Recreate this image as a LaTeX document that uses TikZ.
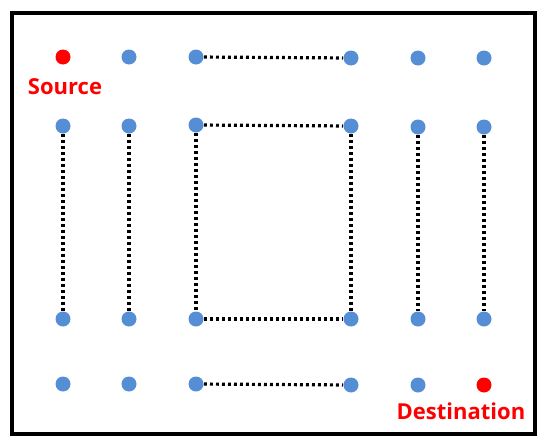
\documentclass[tikz,border=0pt]{standalone}
\usepackage{fontspec}
\setmainfont{Open Sans}
\tikzset{every picture/.style={line width=0.75pt}}
\tikzset{
  bdot/.style={circle,fill={rgb, 255:red, 85; green, 142; blue, 213 },inner sep=0pt,minimum size=11.25pt},
  rdot/.style={circle,fill={rgb, 255:red, 255; green, 0; blue, 0 },inner sep=0pt,minimum size=11.25pt},
  link/.style={line width=2.4pt,dash pattern=on 2.1pt off 2.4pt},
  lbl/.style={text={rgb, 255:red, 255; green, 0; blue, 0 },font=\bfseries\fontsize{16.5}{19}\selectfont}
}
\begin{document}
\begin{tikzpicture}[x=0.75pt,y=0.75pt,yscale=-1,xscale=1]
	\useasboundingbox (0,0) rectangle (550,443);

	%Shape: Rectangle
	\draw [line width=3pt]  (12,13) rectangle (535,434) ;

	%Row 1
	\node [rdot] (a1) at (63,57) {};
	\node [bdot] (a2) at (129,57) {};
	\node [bdot] (a3) at (196,57) {};
	\node [bdot] (a4) at (351,58) {};
	\node [bdot] (a5) at (418,58) {};
	\node [bdot] (a6) at (484,58) {};
	%Row 2
	\node [bdot] (b1) at (63,126) {};
	\node [bdot] (b2) at (129,126) {};
	\node [bdot] (b3) at (196,125) {};
	\node [bdot] (b4) at (351,126) {};
	\node [bdot] (b5) at (418,127) {};
	\node [bdot] (b6) at (484,127) {};
	%Row 3
	\node [bdot] (c1) at (63,319) {};
	\node [bdot] (c2) at (129,319) {};
	\node [bdot] (c3) at (196,319) {};
	\node [bdot] (c4) at (351,319) {};
	\node [bdot] (c5) at (418,319) {};
	\node [bdot] (c6) at (484,319) {};
	%Row 4
	\node [bdot] (d1) at (63,384) {};
	\node [bdot] (d2) at (129,384) {};
	\node [bdot] (d3) at (196,384) {};
	\node [bdot] (d4) at (351,385) {};
	\node [bdot] (d5) at (418,385) {};
	\node [rdot] (d6) at (484,385) {};

	%Dotted Lines
	\draw [link] (a3) -- (a4) ;
	\draw [link] (b3) -- (b4) ;
	\draw [link] (c3) -- (c4) ;
	\draw [link] (d3) -- (d4) ;
	\draw [link] (b1) -- (c1) ;
	\draw [link] (b2) -- (c2) ;
	\draw [link] (b3) -- (c3) ;
	\draw [link] (b4) -- (c4) ;
	\draw [link] (b5) -- (c5) ;
	\draw [link] (b6) -- (c6) ;

	% Text Node
	\node [lbl] (src) at (65,87) {Source};
	% Text Node
	\node [lbl] (dst) at (461,411) {Destination};

\end{tikzpicture}
\end{document}
